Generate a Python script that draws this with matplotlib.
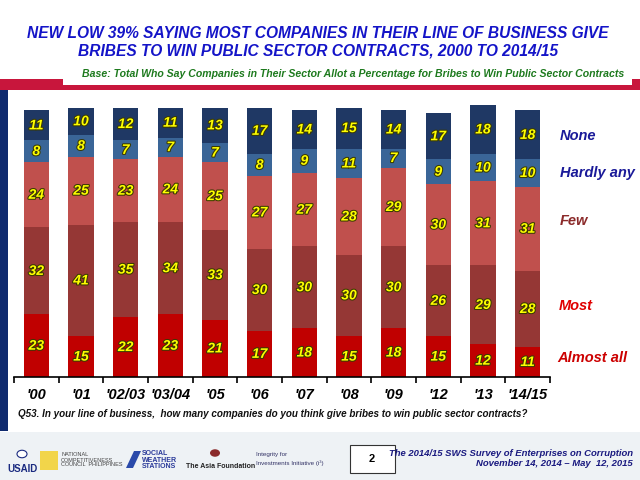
import matplotlib
matplotlib.use('Agg')
import matplotlib.pyplot as plt
import matplotlib.patheffects as pe
from matplotlib.patches import Rectangle, Circle, Polygon
import numpy as np

plt.rcParams['font.family'] = ['Liberation Sans', 'DejaVu Sans']

years = ["'00", "'01", "'02/03", "'03/04", "'05", "'06", "'07", "'08", "'09", "'12", "'13", "'14/15"]
almost_all = [23, 15, 22, 23, 21, 17, 18, 15, 18, 15, 12, 11]
most = [32, 41, 35, 34, 33, 30, 30, 30, 30, 26, 29, 28]
few = [24, 25, 23, 24, 25, 27, 27, 28, 29, 30, 31, 31]
hardly_any = [8, 8, 7, 7, 7, 8, 9, 11, 7, 9, 10, 10]
none = [11, 10, 12, 11, 13, 17, 14, 15, 14, 17, 18, 18]

series = [almost_all, most, few, hardly_any, none]
names = ['Almost all', 'Most', 'Few', 'Hardly any', 'None']
colors = ['#C00000', '#953735', '#C0504D', '#3A6597', '#1F3864']
name_colors = ['#CC0000', '#E00000', '#8B2A2A', '#1A1A99', '#1A1A99']

fig = plt.figure(figsize=(6.4, 4.8), dpi=100)
fig.patch.set_facecolor('white')


# helper: rectangle given in picture pixels (top-left origin)
def px_rect(x0, y0, x1, y1, color, z=0, **kw):
    fig.patches.append(Rectangle((x0 / 640, 1 - y1 / 480), (x1 - x0) / 640, (y1 - y0) / 480,
                                 transform=fig.transFigure, facecolor=color, zorder=z, **kw))


def fx(px):
    return px / 640


def fy(py):
    return 1 - py / 480


px_rect(0, 79, 640, 90, '#C8163C')
px_rect(63, 0, 632, 85, 'white', z=1)
px_rect(0, 90, 8, 431, '#0F2A6E')
px_rect(0, 432, 640, 480, '#EEF2F5')
px_rect(350, 445, 395, 473, 'white', z=2, edgecolor='#333333', linewidth=0.8)

ax = fig.add_axes([14 / 640, 1 - 377 / 480, 536 / 640, 272 / 480])
ax.set_facecolor('none')
x = np.arange(len(years))
bottom = np.zeros(len(years))
for vals, c in zip(series, colors):
    ax.bar(x, vals, width=0.57, bottom=bottom, color=c, edgecolor='none', zorder=2)
    for xi, b, v in zip(x, bottom, vals):
        ax.text(xi, b + v / 2, str(v), ha='center', va='center', fontsize=10,
                fontweight='bold', style='italic', color='#FFFF00', zorder=3,
                path_effects=[pe.withStroke(linewidth=1.5, foreground='#3A3A00')])
    bottom += np.array(vals)

ax.set_xlim(-0.5, len(years) - 0.5)
ax.set_ylim(0, 100)
for s in ['top', 'right', 'left']:
    ax.spines[s].set_visible(False)
ax.spines['bottom'].set_color('black')
ax.spines['bottom'].set_linewidth(1.2)
ax.set_yticks([])
ax.set_xticks(np.arange(-0.5, len(years), 1))
ax.set_xticklabels([])
ax.tick_params(axis='x', length=4, width=1.2, direction='out')
ax.set_xticks(x, minor=True)
ax.set_xticklabels(years, minor=True)
ax.tick_params(axis='x', which='minor', length=0, pad=8)
for lbl in ax.get_xticklabels(minor=True):
    lbl.set_fontsize(10.5)
    lbl.set_fontweight('bold')
    lbl.set_style('italic')

# series names on the right
name_pos = [(557, 358), (559, 306), (560, 221), (560, 173), (560, 136)]
for n, c, (px, py) in zip(names, name_colors, name_pos):
    fig.text(fx(px), fy(py), n, color=c, fontsize=10.5, fontweight='bold',
             style='italic', va='center', ha='left')

fig.text(fx(318), fy(33), 'NEW LOW 39% SAYING MOST COMPANIES IN THEIR LINE OF BUSINESS GIVE',
         ha='center', va='center', color='#1414C8', fontsize=11.2, fontweight='bold', style='italic', zorder=5)
fig.text(fx(318), fy(51), 'BRIBES TO WIN PUBLIC SECTOR CONTRACTS, 2000 TO 2014/15',
         ha='center', va='center', color='#1414C8', fontsize=11.2, fontweight='bold', style='italic', zorder=5)
fig.text(fx(624), fy(74),
         'Base: Total Who Say Companies in Their Sector Allot a Percentage for Bribes to Win Public Sector Contracts',
         ha='right', va='center', color='#1E7A1E', fontsize=7.6, fontweight='bold', style='italic', zorder=5)
fig.text(fx(18), fy(414),
         'Q53. In your line of business,  how many companies do you think give bribes to win public sector contracts?',
         ha='left', va='center', color='#111111', fontsize=7.1, style='italic', fontweight='bold')

# footer
fig.text(fx(372), fy(459), '2', ha='center', va='center', fontsize=8, fontweight='bold', zorder=6)
fig.text(fx(633), fy(453), 'The 2014/15 SWS Survey of Enterprises on Corruption',
         ha='right', va='center', color='#1A1A80', fontsize=6.8, style='italic', fontweight='bold')
fig.text(fx(633), fy(463), 'November 14, 2014 \u2013 May  12, 2015',
         ha='right', va='center', color='#1A1A80', fontsize=6.8, style='italic', fontweight='bold')

# logo stand-ins
fig.patches.append(Circle((fx(22), fy(454)), 5 / 640, transform=fig.transFigure,
                          facecolor='white', edgecolor='#1A2A80', linewidth=0.8, zorder=3))
fig.text(fx(7), fy(469), 'USAID', ha='left', va='center', color='#1A2A80', fontsize=7, fontweight='bold')
px_rect(40, 451, 58, 470, '#F2D54A', z=3)
fig.text(fx(61), fy(460), 'NATIONAL\nCOMPETITIVENESS\nCOUNCIL  PHILIPPINES', ha='left', va='center',
         color='#444444', fontsize=4, linespacing=1.0)
fig.patches.append(Polygon([(fx(126), fy(468)), (fx(134), fy(451)), (fx(141), fy(451)), (fx(133), fy(468))],
                           closed=True, transform=fig.transFigure, facecolor='#2A4AAA', zorder=3))
fig.text(fx(142), fy(460), 'SOCIAL\nWEATHER\nSTATIONS', ha='left', va='center',
         color='#2A3A9A', fontsize=5, fontweight='bold', linespacing=0.9)
fig.patches.append(Circle((fx(215), fy(453)), 5 / 640, transform=fig.transFigure,
                          facecolor='#8A2A2A', edgecolor='none', zorder=3))
fig.text(fx(186), fy(466), 'The Asia Foundation', ha='left', va='center',
         color='#222222', fontsize=5, fontweight='bold')
fig.text(fx(256), fy(459), 'Integrity for\nInvestments Initiative (i\u00b3)', ha='left', va='center',
         color='#333366', fontsize=4.5, linespacing=1.6)

fig.savefig('out.png', dpi=100)
